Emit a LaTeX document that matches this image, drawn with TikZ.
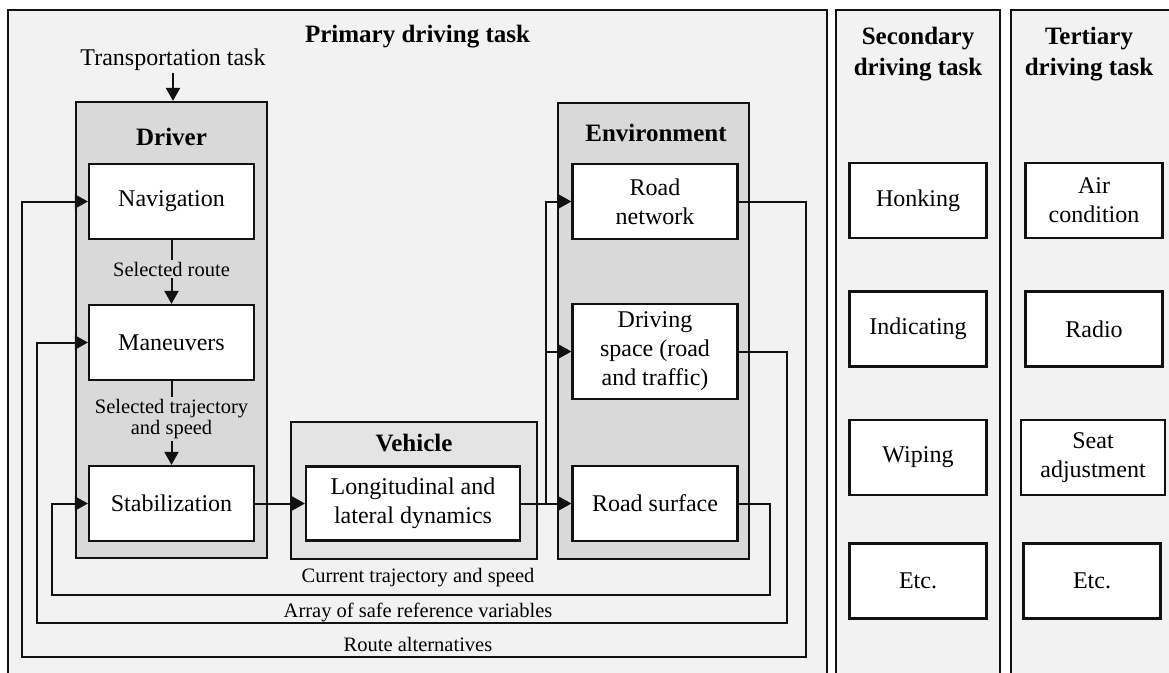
\documentclass[tikz,border=0pt]{standalone}
\usepackage{fontspec}
\setmainfont{Liberation Serif}
\usetikzlibrary{arrows.meta}
\definecolor{panel}{HTML}{F2F2F2}
\definecolor{group}{HTML}{D9D9D9}
\definecolor{vgroup}{HTML}{E4E4E4}
\definecolor{ink}{HTML}{111111}

\begin{document}
\begin{tikzpicture}[x=1pt,y=-1pt,
  panelbox/.style={draw=ink, line width=2pt, fill=panel, inner sep=0pt},
  groupbox/.style={draw=ink, line width=2.2pt, fill=group, inner sep=0pt},
  taskbox/.style={draw=ink, line width=2.2pt, fill=white, inner sep=2pt, align=center,
                  minimum width=165pt, minimum height=75pt,
                  font=\fontsize{24}{29}\selectfont},
  sidebox/.style={taskbox, minimum width=137pt},
  titletext/.style={font=\fontsize{25}{31}\selectfont\bfseries, align=center, inner sep=0pt},
  flowlabel/.style={font=\fontsize{20.5}{21}\selectfont, align=center, inner sep=2pt},
  link/.style={draw=ink, line width=2pt},
  arrowlink/.style={link, -{Triangle[length=13pt,width=14pt]}}
]
\clip (0,0) rectangle (1169,672);

% task panels
\node[panelbox, minimum width=819pt, minimum height=700pt] (prim) at (417.5,360) {};
\node[panelbox, minimum width=164pt, minimum height=700pt] (sec) at (918,360) {};
\node[panelbox, minimum width=169pt, minimum height=700pt] (ter) at (1095.5,360) {};

\node[titletext] (primT) at (417.5,37) {Primary driving task};
\node[titletext] (secT) at (918,54) {Secondary\\driving task};
\node[titletext] (terT) at (1089,54) {Tertiary\\driving task};

% driver, vehicle and environment groups
\node[groupbox, minimum width=191pt, minimum height=456pt] (driver) at (171.5,330) {};
\node[groupbox, fill=vgroup, minimum width=246pt, minimum height=137pt] (vehicle) at (414,490.5) {};
\node[groupbox, minimum width=191pt, minimum height=456pt] (env) at (653.5,331) {};

\node[titletext] (driverT) at (171.5,137) {Driver};
\node[titletext] (vehicleT) at (414,443) {Vehicle};
\node[titletext] (envT) at (656,133) {Environment};

% driver levels
\node[taskbox] (nav) at (171.5,201.5) {Navigation};
\node[taskbox] (man) at (171.5,342.5) {Maneuvers};
\node[taskbox] (stab) at (171.5,503.5) {Stabilization};

% vehicle
\node[taskbox, minimum width=214pt, minimum height=74pt] (lon) at (413,503.5) {Longitudinal and\\lateral dynamics};

% environment
\node[taskbox] (rn) at (655,201.5) {Road\\network};
\node[taskbox, minimum height=95pt] (ds) at (655,351.5) {Driving\\space (road\\and traffic)};
\node[taskbox] (rs) at (655,503.5) {Road surface};

% secondary tasks
\node[sidebox] (honk) at (918,200.5) {Honking};
\node[sidebox] (ind) at (918,329) {Indicating};
\node[sidebox] (wipe) at (918,457.5) {Wiping};
\node[sidebox] (setc) at (918,581) {Etc.};

% tertiary tasks
\node[sidebox, minimum width=137pt] (air) at (1094,200.5) {Air\\condition};
\node[sidebox, minimum width=137pt] (radio) at (1094,329) {Radio};
\node[sidebox, minimum width=144pt] (seat) at (1093,457.5) {Seat\\adjustment};
\node[sidebox, minimum width=137pt] (tetc) at (1092,581) {Etc.};

% transportation task input
\node[font=\fontsize{24}{29}\selectfont, inner sep=2pt] (trans) at (173,60) {Transportation task};
\draw[arrowlink] (trans.south) -- (trans.south |- driver.north);

% hierarchy inside the driver
\node[flowlabel] (route) at (171.5,269) {Selected route};
\draw[link] (nav.south) -- (route.north);
\draw[arrowlink] (route.south) -- (man.north);

\node[flowlabel] (traj) at (171.5,419) {Selected trajectory\\and speed};
\draw[link] (man.south) -- (traj.north);
\draw[arrowlink] (traj.south) -- (stab.north);

% driver -> vehicle -> environment
\draw[arrowlink] (stab.east) -- (lon.west);
\coordinate (split) at (546,503.5);
\draw[arrowlink] (lon.east) -- (rs.west);
\draw[arrowlink] (split) |- (rn.west);
\draw[arrowlink] (split |- ds.west) -- (ds.west);

% feedback loops
\coordinate (fbRouteR) at (806,657);
\coordinate (fbRouteL) at (22,657);
\coordinate (fbArrayR) at (787,623);
\coordinate (fbArrayL) at (37,623);
\coordinate (fbCurR) at (770,595);
\coordinate (fbCurL) at (52,595);

\draw[arrowlink] (rn.east) -| (fbRouteR) -- (fbRouteL) |- (nav.west);
\draw[arrowlink] (ds.east) -| (fbArrayR) -- (fbArrayL) |- (man.west);
\draw[arrowlink] (rs.east) -| (fbCurR) -- (fbCurL) |- (stab.west);

\node[flowlabel] (curL) at (418,578) {Current trajectory and speed};
\node[flowlabel] (arrL) at (418,612) {Array of safe reference variables};
\node[flowlabel] (rouL) at (418,644) {Route alternatives};
\end{tikzpicture}
\end{document}
